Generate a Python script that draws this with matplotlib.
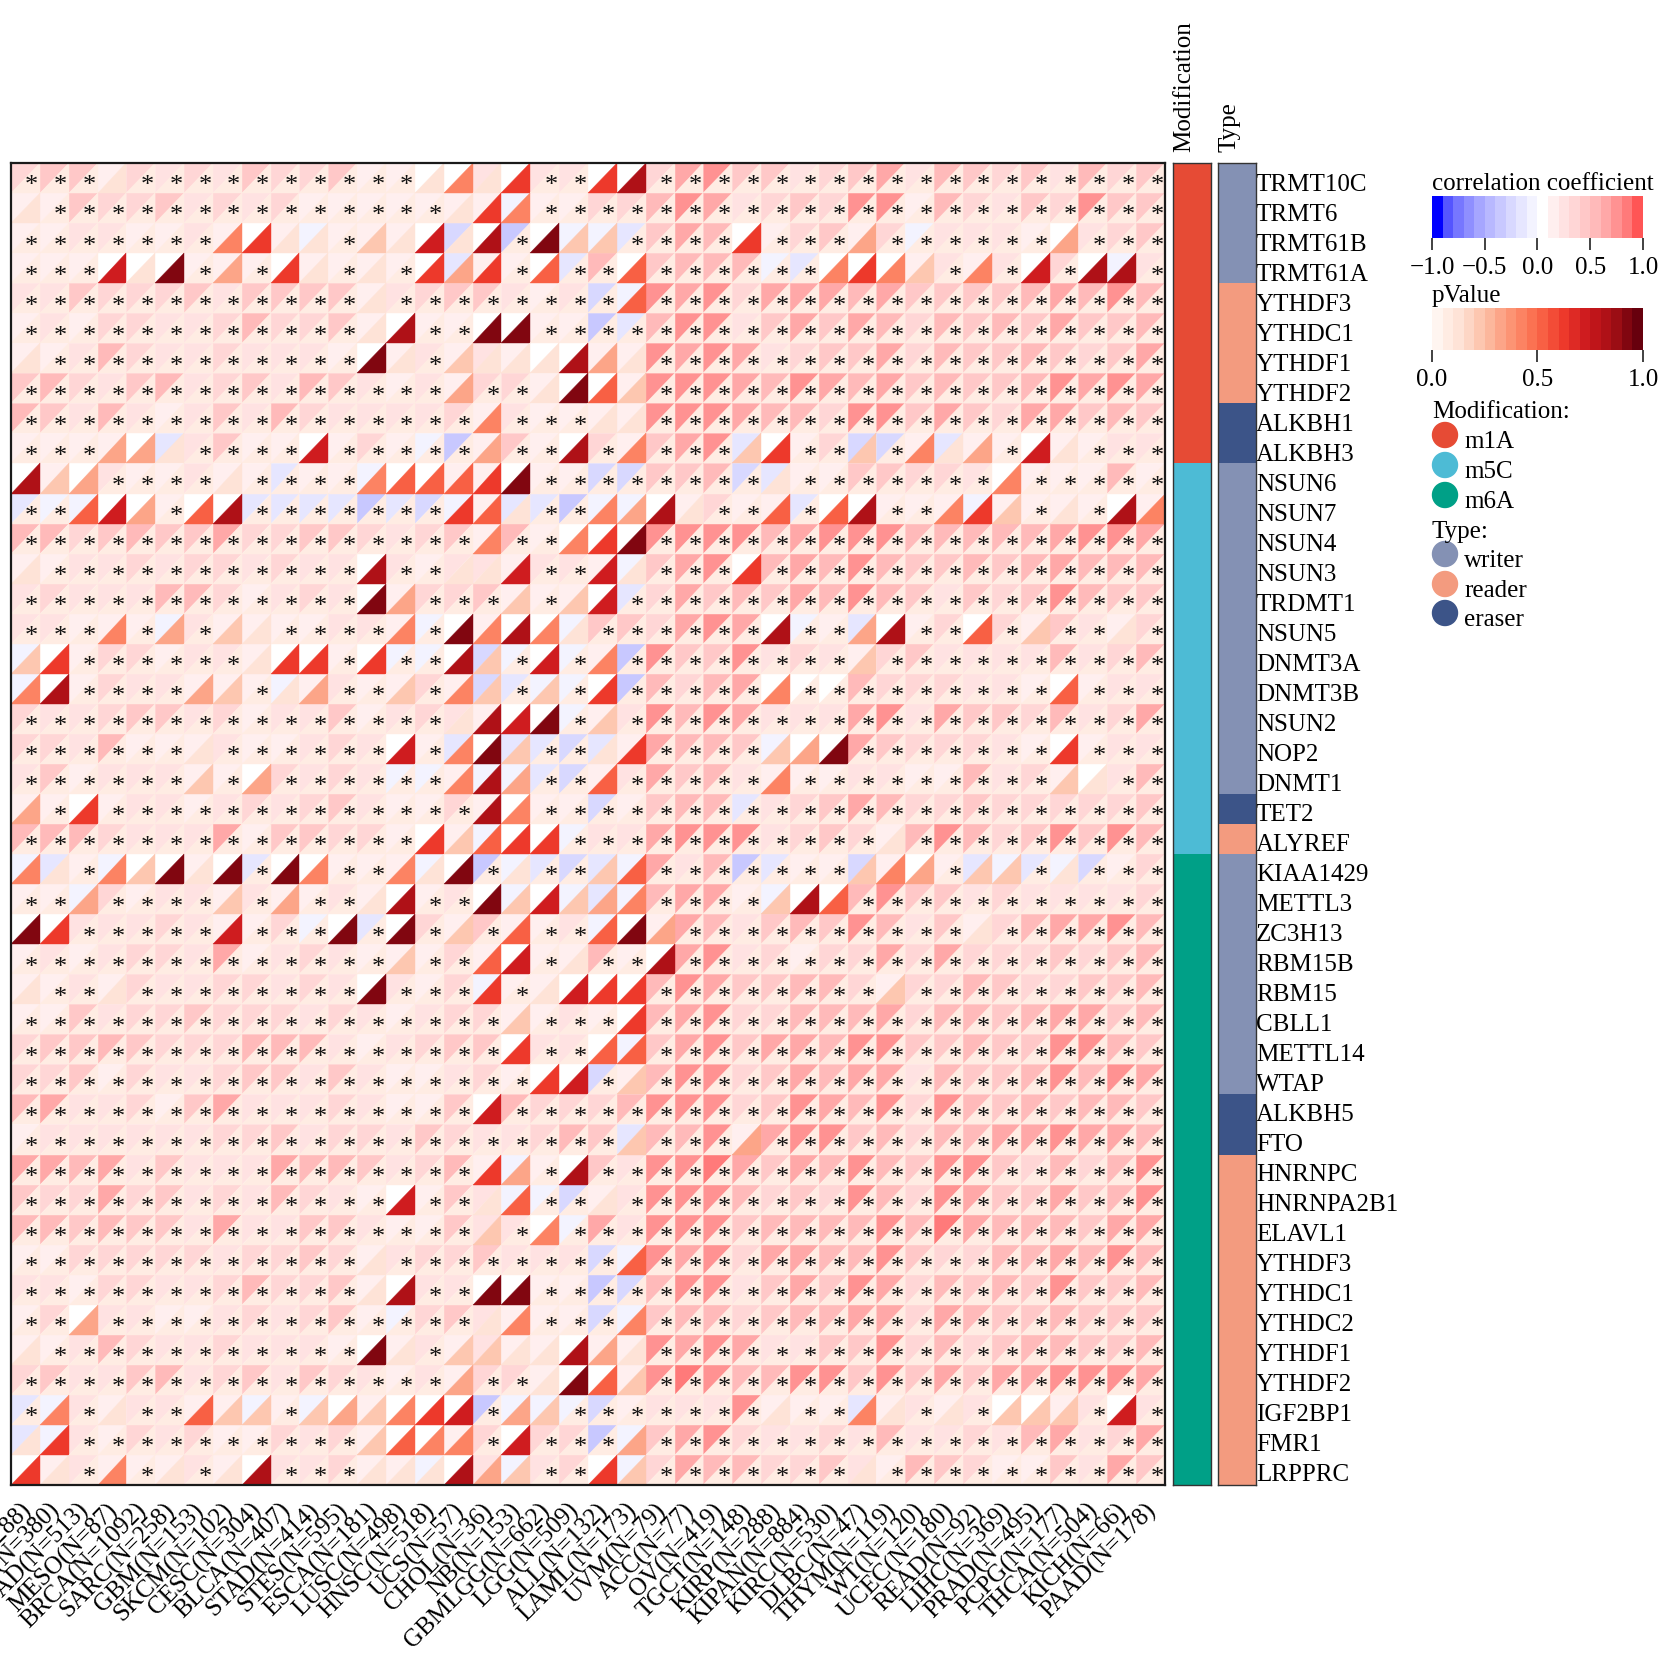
import numpy as np
import matplotlib
matplotlib.use('Agg')
import matplotlib.pyplot as plt
from matplotlib.collections import PolyCollection
from matplotlib.colors import ListedColormap, Normalize
from matplotlib.cm import ScalarMappable
from matplotlib.patches import Ellipse
from matplotlib.transforms import ScaledTranslation

plt.rcParams['font.family'] = ['Liberation Serif', 'DejaVu Sans']

W, H = 1665, 1672

genes = ['TRMT10C', 'TRMT6', 'TRMT61B', 'TRMT61A', 'YTHDF3', 'YTHDC1', 'YTHDF1', 'YTHDF2', 'ALKBH1', 'ALKBH3',
         'NSUN6', 'NSUN7', 'NSUN4', 'NSUN3', 'TRDMT1', 'NSUN5', 'DNMT3A', 'DNMT3B', 'NSUN2', 'NOP2', 'DNMT1', 'TET2',
         'ALYREF', 'KIAA1429', 'METTL3', 'ZC3H13', 'RBM15B', 'RBM15', 'CBLL1', 'METTL14', 'WTAP', 'ALKBH5', 'FTO',
         'HNRNPC', 'HNRNPA2B1', 'ELAVL1', 'YTHDF3', 'YTHDC1', 'YTHDC2', 'YTHDF1', 'YTHDF2', 'IGF2BP1', 'FMR1', 'LRPPRC']

cancers = ['COAD(N=288)', 'COADREAD(N=380)', 'LUAD(N=513)', 'MESO(N=87)', 'BRCA(N=1092)', 'SARC(N=258)', 'GBM(N=153)',
           'SKCM(N=102)', 'CESC(N=304)', 'BLCA(N=407)', 'STAD(N=414)', 'STES(N=595)', 'ESCA(N=181)', 'LUSC(N=498)',
           'HNSC(N=518)', 'UCS(N=57)', 'CHOL(N=36)', 'NB(N=153)', 'GBMLGG(N=662)', 'LGG(N=509)', 'ALL(N=132)',
           'LAML(N=173)', 'UVM(N=79)', 'ACC(N=77)', 'OV(N=419)', 'TGCT(N=148)', 'KIRP(N=288)', 'KIPAN(N=884)',
           'KIRC(N=530)', 'DLBC(N=47)', 'THYM(N=119)', 'WT(N=120)', 'UCEC(N=180)', 'READ(N=92)', 'LIHC(N=369)',
           'PRAD(N=495)', 'PCPG(N=177)', 'THCA(N=504)', 'KICH(N=66)', 'PAAD(N=178)']

# correlation per gene, one char per cancer: digit = level, a-d = small negative
corr_rows = [
    '3441323243341 10020220036744 2346254342534',
    '1143342323111 1111a113357623 4378153243744',
    '1122112101a11 10c0d0aab46501 3413a22210234',
    '1110001110111 10b110b504555a b0001212030a2',
    '2243334244441 2344212ca76836 6656444456575',
    '1213322353341 0110011db57724 6465354546445',
    '1125322322210 12121001176762 3446354454346',
    '4532452342542 12133100178765 7656454457676',
    '5425212425322 22312111178865 5378464366454',
    '11110b2411013 1ad141031467b0 13cc1b1101122',
    '010211211b11a 0011011cc445cb 1144332011151',
    'baa00100bbbbd bca1bbdaa01311 b00111a111101',
    '5534544633443 23415100078775 6787555556876',
    '1122323323220 21221221a46705 6585445456555',
    '2322255312320 13341110b36454 6575424347544',
    '22111a2111122 1a0100a4436760 a1b0130314213',
    'a013312210010 aa0ca0a1d74472 3213422225235',
    'a01322111a121 131cbaa0d53560 0053332210122',
    '3223442312241 232100a1275862 2268264435236',
    '3325111211232 01b0bbcb16554a 0064333210122',
    '2412221103232 aa1aabc1264521 1122115231025',
    '1101221232342 1131011c1455b2 3465334333334',
    '5553222614433 101a00a2268782 3431575347475',
    'ab1a0010b0011 1a0dabcba625db 11c101babac13',
    '11a3122121121 0120a0aba5661a 0057442322223',
    '0022232113a0b 0314112a016524 5475241356675',
    '1212332612321 11310115106723 1336363334345',
    '1121322332320 213a1100058644 5531335433445',
    '1142334333232 12331121056733 5556355456645',
    '3445433355521 23440220a46746 6578445448754',
    '3341322344242 1123100c157834 6566254457576',
    '5622314622232 11405333577834 7657375454554',
    '1222222334233 24322354b55716 8745355668665',
    '6656242226554 2351a104288964 6585477435358',
    '4336342325321 0142aac1288853 4375376446458',
    '5545442622442 114220a6288845 5558596555466',
    '1133333233431 2334222ca76836 6557433556575',
    '2213322353341 0220011dc57724 6476354547445',
    '1302211232341 a342111ca45534 5566365445444',
    '1125322322210 12121101176762 2447353455445',
    '3422452342432 12133100179755 8748464667786',
    'ba212211a1a01 000daaac122281 11b1212001202',
    'ba21323113231 0013033da46732 2325223256236',
    '0121112102231 1a02a230a36553 3421543114264',
]

# p value per gene, '.' = significant (star), digit = tenths
p_rows = [
    '...1......... .1416..68..... .............',
    '1............ ..164......... .............',
    '.......4611.2 1718.922....6. ..3......3...',
    '...719.3.61.1 .636.5..5..... .4642.4.7.88.',
    '............1 ........5..... .............',
    '............1 8..99......... .............',
    '1...........9 1.2111831..... .............',
    '............. ..3..1952..... .............',
    '............. ...4...11..... .............',
    '...331....7.. ...3..8.4...26 ..2.413.71...',
    '823....1....4 55569........1 .......4.....',
    '..573.58..... ..651..4381..5 .58..462.1.84',
    '............. ...4..469..... .............',
    '1...........8 ..117..71...6. .............',
    '............9 3...2.27...... .............',
    '...4.3.21.... 4.94841......8 ..38..5.2..1.',
    '26......166.6 ..82.7.4...... ..2..........',
    '48....32.13.. 2.42.2.6.....4 .........5...',
    '............. ..1879.2...... .............',
    '......1...... 7.492..16....2 39.......6...',
    '......2.3.... ..483..5.....4 .........21..',
    '3.6.......... ...84......... .............',
    '............. .62566........ ...1.........',
    '41.42919.94.. 419.1..25..... ..243.22.1...',
    '..3....2.3..1 8..927234....2 85...........',
    '96.....7...9. 9.2.5..593.... ......1......',
    '............. 2..57.1..8.... .............',
    '1..1........9 ...6.1766..... ...2.........',
    '............. ....2...6..... .............',
    '............. ....6..55..... .............',
    '............. .....67.2..... .............',
    '............. ...7.......... .............',
    '............. ........2...3. .............',
    '............. ...63.8....... .............',
    '............. 7..15..1...... .............',
    '............. ...2.4........ .............',
    '............1 ........5..... .............',
    '............1 8..99......... .............',
    '..3.......... ...14...4..... .............',
    '1...........9 1.2211831..... .............',
    '............. ..3..1952..... .............',
    '.4.1..522.232 467.32.......1 ..41.1.222.7.',
    '16..........2 544.7...3..... .............',
    '61.4.1.18...1 11832..62..... ..1..........',
]

corr_levels = [0.05, 0.15, 0.25, 0.35, 0.45, 0.55, 0.65, 0.72, 0.78, 0.85]
neg_levels = {'a': -0.05, 'b': -0.15, 'c': -0.25, 'd': -0.35}

modification = ['m1A'] * 10 + ['m5C'] * 13 + ['m6A'] * 21
gene_type = (['writer'] * 4 + ['reader'] * 4 + ['eraser'] * 2 + ['writer'] * 11 + ['eraser'] + ['reader']
             + ['writer'] * 8 + ['eraser'] * 2 + ['reader'] * 11)

mod_colors = {'m1A': '#E64B35', 'm5C': '#4DBBD5', 'm6A': '#00A087'}
type_colors = {'writer': '#8491B4', 'reader': '#F39B7F', 'eraser': '#3C5488'}


def parse_corr(ch):
    if ch in neg_levels:
        return neg_levels[ch]
    return corr_levels[int(ch)]


def parse_p(ch):
    return 0.06 if ch == '.' else (int(ch) + 0.2) / 10


def px_axes(x0, y0, x1, y1):
    return fig.add_axes([x0 / W, 1 - y1 / H, (x1 - x0) / W, (y1 - y0) / H])


corr = np.array([[parse_corr(c) for c in r.replace(' ', '')] for r in corr_rows])
pval = np.array([[parse_p(c) for c in r.replace(' ', '')] for r in p_rows])
nrow, ncol = corr.shape

corr_cmap = ListedColormap(['#0000ff', '#5555ff', '#7777ff', '#8f8fff', '#a6a6ff', '#b8b8ff', '#c8c8ff', '#d8d8ff',
                            '#e6e6ff', '#f3f3ff', '#ffffff', '#ffefef', '#ffe2e2', '#ffd6d6', '#ffc8c8', '#ffbaba',
                            '#ffa8a8', '#ff9292', '#ff7a7a', '#ff5555'])
p_cmap = plt.get_cmap('Reds', 20)
corr_norm = Normalize(-1, 1)
p_norm = Normalize(0, 1)

fig = plt.figure(figsize=(W / 100, H / 100), dpi=100)

ax = px_axes(11, 163, 1165, 1485)
upper, lower = [], []
for i in range(nrow):
    for j in range(ncol):
        upper.append([(j, i), (j + 1, i), (j, i + 1)])
        lower.append([(j + 1, i), (j + 1, i + 1), (j, i + 1)])
ax.add_collection(PolyCollection(upper, array=corr.ravel(), cmap=corr_cmap, norm=corr_norm, edgecolors='face', linewidths=0.3))
ax.add_collection(PolyCollection(lower, array=pval.ravel(), cmap=p_cmap, norm=p_norm, edgecolors='face', linewidths=0.3))
for i in range(nrow):
    for j in range(ncol):
        if pval[i, j] < 0.1:
            ax.text(j + 0.72, i + 0.78, '*', ha='center', va='center', fontsize=19, color='#111111')
ax.set_xlim(0, ncol)
ax.set_ylim(nrow, 0)
ax.set_yticks([])
ax.set_xticks(np.arange(ncol) + 0.5)
ax.set_xticklabels(cancers, rotation=45, ha='right', rotation_mode='anchor', fontsize=18)
ax.tick_params(axis='x', length=0, pad=10)
shift = ScaledTranslation(-6 / 100, 0, fig.dpi_scale_trans)
for lab in ax.get_xticklabels():
    lab.set_transform(lab.get_transform() + shift)
for s in ax.spines.values():
    s.set_linewidth(1.6)
    s.set_color('#1a1a1a')

# annotation bars
ax_mod = px_axes(1173, 163, 1211, 1485)
mod_names = list(mod_colors)
ax_mod.pcolormesh([[mod_names.index(m)] for m in modification], cmap=ListedColormap(list(mod_colors.values())), vmin=0, vmax=2)
ax_mod.set_ylim(nrow, 0)
ax_mod.set_xticks([])
ax_mod.set_yticks([])

ax_type = px_axes(1218, 163, 1256, 1485)
type_names = list(type_colors)
ax_type.pcolormesh([[type_names.index(t)] for t in gene_type], cmap=ListedColormap(list(type_colors.values())), vmin=0, vmax=2)
ax_type.set_ylim(nrow, 0)
ax_type.set_xticks([])
ax_type.yaxis.tick_right()
ax_type.set_yticks(np.linspace(0.65, nrow - 0.42, nrow))
ax_type.set_yticklabels(genes, fontsize=18)
ax_type.tick_params(axis='y', length=0, pad=0)
for a in (ax_mod, ax_type):
    for s in a.spines.values():
        s.set_linewidth(1)
        s.set_color('#333333')

# colorbars
cax1 = px_axes(1432, 196, 1643, 238)
cb1 = fig.colorbar(ScalarMappable(norm=corr_norm, cmap=corr_cmap), cax=cax1, orientation='horizontal')
cb1.set_ticks([-1, -0.5, 0, 0.5, 1])
cb1.ax.set_xticklabels(['\u22121.0', '\u22120.5', '0.0', '0.5', '1.0'])
cax2 = px_axes(1432, 308, 1643, 350)
cb2 = fig.colorbar(ScalarMappable(norm=p_norm, cmap=p_cmap), cax=cax2, orientation='horizontal')
cb2.set_ticks([0, 0.5, 1])
cb2.ax.set_xticklabels(['0.0', '0.5', '1.0'])
for cb in (cb1, cb2):
    cb.outline.set_visible(False)
    cb.ax.tick_params(axis='x', length=8.5, width=1.3, labelsize=18, pad=5, color='#333333')

# legend texts and circles, drawn in pixel coords
lg = fig.add_axes([0, 0, 1, 1], facecolor='none')
lg.set_xlim(0, W)
lg.set_ylim(H, 0)
lg.axis('off')
lg.text(1184, 152, 'Modification', fontsize=18, rotation=90, ha='center', va='bottom')
lg.text(1230, 152, 'Type', fontsize=18, rotation=90, ha='center', va='bottom')
lg.text(1432, 190, 'correlation coefficient', fontsize=18, va='baseline')
lg.text(1432, 302, 'pValue', fontsize=18, va='baseline')
lg.text(1432, 418, 'Modification:', fontsize=18, va='baseline')
lg.text(1432, 538, 'Type:', fontsize=18, va='baseline')
mod_y = [435, 465, 495]
type_y = [554, 584, 613]
for name, y in zip(mod_colors, mod_y):
    lg.add_patch(Ellipse((1445, y), 25, 25, color=mod_colors[name]))
    lg.text(1464, y + 13, name, fontsize=18, va='baseline')
for name, y in zip(type_colors, type_y):
    lg.add_patch(Ellipse((1445, y), 25, 25, color=type_colors[name]))
    lg.text(1464, y + 13, name, fontsize=18, va='baseline')

fig.savefig('out.png', dpi=100)
